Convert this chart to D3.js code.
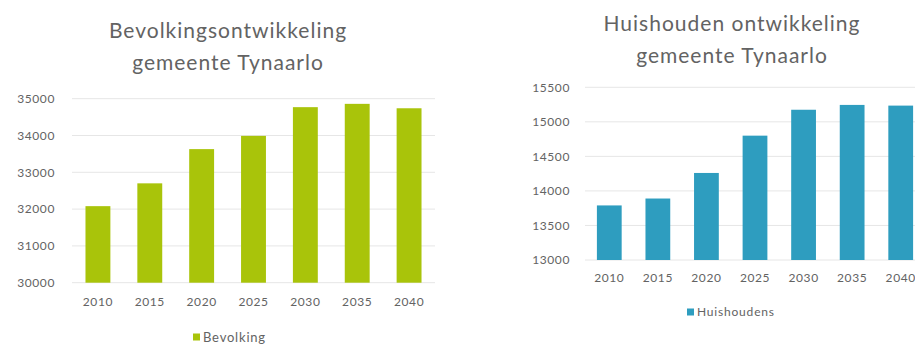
<!DOCTYPE html>
<html>
<head>
<meta charset="utf-8">
<script src="https://cdn.jsdelivr.net/npm/d3@7"></script>
<style>
    body { margin: 0; background: #fff; }
    svg { display: block; font-family: Lato, "Open Sans", sans-serif; }
</style>
</head>
<body>
<svg id="chart" width="915" height="345"></svg>
<script>
// data
var years = ["2010", "2015", "2020", "2025", "2030", "2035", "2040"];
var bevolking = [32080, 32700, 33630, 33990, 34770, 34860, 34740];
var huishoudens = [13790, 13890, 14260, 14800, 15175, 15245, 15235];
var bevolkingTicks = [30000, 31000, 32000, 33000, 34000, 35000];
var huishoudenTicks = [13000, 13500, 14000, 14500, 15000, 15500];

var svg = d3.select("#chart");
var textColor = "#636363";

var drawChart = function(cfg) {
    var g = svg.append("g");

    var x = d3.scaleBand().domain(years).range([cfg.left, cfg.right]).paddingInner(cfg.pad).paddingOuter(cfg.pad / 2);
    var y = d3.scaleLinear().domain(cfg.domain).range([cfg.bottom, cfg.top]);

    // gridlines
    g.append("g").selectAll("line").data(cfg.ticks).join("line")
        .attr("x1", cfg.left).attr("x2", cfg.right)
        .attr("y1", function(d) { return y(d); }).attr("y2", function(d) { return y(d); })
        .attr("stroke", "#e6e6e6").attr("stroke-width", 1);

    // y axis labels
    var yAxis = d3.axisLeft(y).tickValues(cfg.ticks).tickSize(0).tickPadding(0).tickFormat(d3.format("d"));
    var ya = g.append("g").attr("transform", "translate(" + cfg.labelX + ",0)").call(yAxis);
    ya.select(".domain").remove();
    ya.selectAll("text").attr("fill", textColor).style("font-size", cfg.tickSize + "px")
        .style("font-family", "Lato").style("letter-spacing", "0.6px");

    // bars
    g.append("g").selectAll("rect").data(cfg.values).join("rect")
        .attr("x", function(d, i) { return x(years[i]); })
        .attr("width", x.bandwidth())
        .attr("y", function(d) { return y(d); })
        .attr("height", function(d) { return y(cfg.domain[0]) - y(d); })
        .attr("fill", cfg.color);

    // x axis labels
    var xAxis = d3.axisBottom(x).tickSize(0).tickPadding(0);
    var xa = g.append("g").attr("transform", "translate(0," + cfg.xLabelY + ")").call(xAxis);
    xa.select(".domain").remove();
    xa.selectAll("text").attr("fill", textColor).attr("dy", "0.35em").style("font-size", cfg.tickSize + "px")
        .style("font-family", "Lato").style("letter-spacing", "0.6px");

    // title
    cfg.title.forEach(function(line, i) {
        g.append("text")
            .attr("x", cfg.titleX).attr("y", cfg.titleY + i * 32)
            .attr("text-anchor", "middle")
            .attr("fill", textColor)
            .style("font-size", "21px")
            .style("letter-spacing", "1px")
            .text(line);
    });

    // legend
    var leg = g.append("g").attr("transform", "translate(" + cfg.legendX + "," + cfg.legendY + ")");
    leg.append("rect").attr("x", 0).attr("y", -3.5).attr("width", 7).attr("height", 7).attr("fill", cfg.color);
    leg.append("text").attr("x", 10).attr("dy", "0.35em").attr("fill", textColor)
        .style("font-size", cfg.legendSize + "px").style("letter-spacing", "0.8px").text(cfg.legend);
};

drawChart({
    values: bevolking, ticks: bevolkingTicks, domain: [30000, 35000],
    left: 72, right: 435, top: 98.7, bottom: 282.7, pad: 0.52,
    labelX: 55, xLabelY: 302, tickSize: 12,
    color: "#a9c40a",
    title: ["Bevolkingsontwikkeling", "gemeente Tynaarlo"], titleX: 228, titleY: 38,
    legend: "Bevolking", legendX: 193, legendY: 337, legendSize: 13
});

drawChart({
    values: huishoudens, ticks: huishoudenTicks, domain: [13000, 15500],
    left: 585, right: 925, top: 87.3, bottom: 260, pad: 0.49,
    labelX: 570, xLabelY: 278, tickSize: 12,
    color: "#2e9dbf",
    title: ["Huishouden ontwikkeling", "gemeente Tynaarlo"], titleX: 732, titleY: 30.5,
    legend: "Huishoudens", legendX: 687, legendY: 312, legendSize: 12
});
</script>
</body>
</html>
